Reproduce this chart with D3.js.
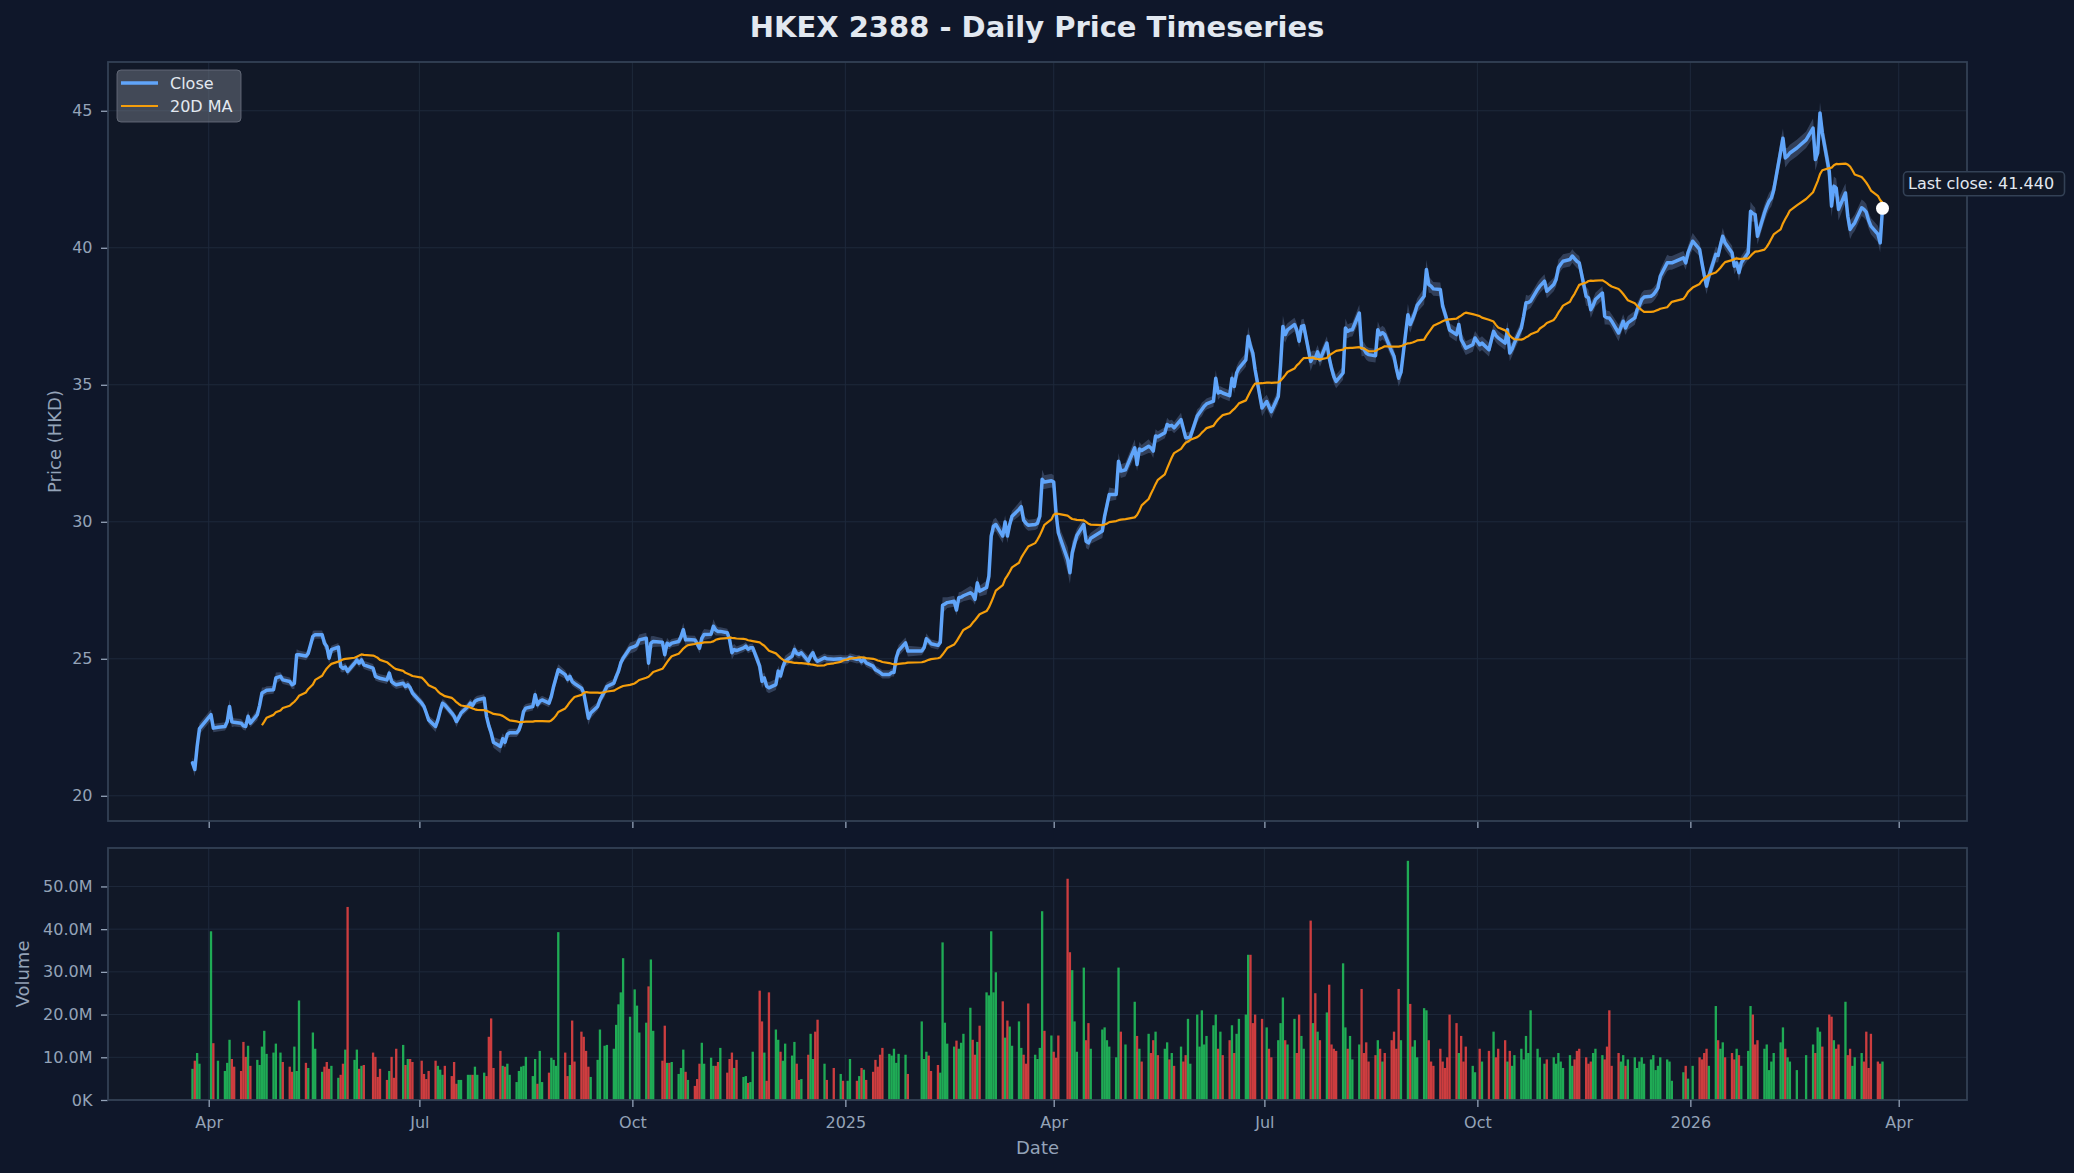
<!DOCTYPE html>
<html>
<head>
<meta charset="utf-8">
<script src="https://cdn.jsdelivr.net/npm/d3@7"></script>
<style>
  html, body { margin: 0; padding: 0; background: #0f172a; }
  svg { display: block; font-family: "DejaVu Sans", sans-serif; }
</style>
</head>
<body>
<svg id="chart" width="2074" height="1173"></svg>
<script>
var START_DATE = "2024-03-25";

// HKEX weekday holidays inside the range
var holidays = [
  "2024-03-29", "2024-04-01", "2024-04-04", "2024-05-01", "2024-05-15", "2024-06-10",
  "2024-07-01", "2024-09-18", "2024-10-01", "2024-10-11", "2024-12-25", "2024-12-26",
  "2025-01-01", "2025-01-29", "2025-01-30", "2025-01-31", "2025-04-04", "2025-04-18",
  "2025-04-21", "2025-05-01", "2025-05-05", "2025-07-01", "2025-10-01", "2025-10-07",
  "2025-10-29", "2025-12-25", "2025-12-26",
  "2026-01-01", "2026-02-17", "2026-02-18", "2026-02-19"
];

// daily close, HKD (one line per month)
var closes = [
  21.20, 20.96, 21.80, 22.45,
  22.96, 22.47, 22.50, 22.53, 22.70, 23.26, 22.70, 22.68, 22.65, 22.55, 22.53, 22.90, 22.65, 22.96, 23.30, 23.75, 23.80, 23.85, 23.87, 24.30,
  24.36, 24.23, 24.17, 24.05, 24.10, 25.15, 25.15, 25.10, 25.20, 25.82, 25.88, 25.88, 25.57, 25.45, 25.02, 25.33, 25.43, 24.72, 24.65, 24.70, 24.54,
  24.84, 24.96, 24.84, 24.96, 24.78, 24.66, 24.36, 24.32, 24.29, 24.23, 24.48, 24.17, 24.10, 24.05, 24.11, 23.99, 24.05, 23.95, 23.75,
  23.38, 23.26, 23.02, 22.77, 22.53, 22.77, 23.10, 23.38, 23.32, 23.02, 22.90, 22.71, 22.85, 23.02, 23.26, 23.38, 23.30, 23.45, 23.50, 23.56, 22.90, 22.55,
  22.30, 21.95, 21.80, 22.08, 21.95, 22.25, 22.30, 22.30, 22.40, 22.65, 23.08, 23.20, 23.26, 23.69, 23.32, 23.45, 23.50, 23.38, 23.63, 24.00, 24.30, 24.60,
  24.42, 24.25, 24.36, 24.17, 24.10, 23.93, 23.75, 23.30, 22.83, 23.02, 23.26, 23.50, 23.81, 23.99, 24.11, 24.35, 24.54, 24.85, 25.02, 25.39,
  25.45, 25.51, 25.69, 25.75, 24.84, 25.57, 25.63, 25.60, 25.15, 25.57, 25.50, 25.57, 25.63, 25.80, 26.06, 25.69, 25.70, 25.69, 25.55, 25.39, 25.75,
  25.89, 25.90, 26.19, 26.05, 26.00, 26.00, 25.95, 25.70, 25.22, 25.34, 25.30, 25.40, 25.46, 25.35, 25.40, 25.40, 24.73, 24.18, 24.30, 24.00, 23.94,
  24.06, 24.55, 24.37, 24.70, 24.91, 25.10, 25.34, 25.20, 25.16, 25.22, 24.91, 25.10, 25.22, 25.00, 24.91, 25.04, 25.00, 24.98, 25.00, 24.98,
  24.98, 25.05, 24.98, 25.00, 24.90, 24.98, 24.85, 24.73, 24.60, 24.55, 24.50, 24.43, 24.43, 24.50, 24.50, 25.04, 25.30, 25.58, 25.28,
  25.28, 25.40, 25.73, 25.65, 25.55, 25.49, 25.60, 26.95, 27.00, 27.05, 27.10, 26.78, 27.23, 27.25, 27.30, 27.41, 27.35, 27.17, 27.77, 27.47,
  27.60, 28.02, 29.48, 29.84, 29.90, 29.48, 29.99, 29.48, 29.90, 30.20, 30.45, 30.55, 30.06, 29.95, 29.87, 29.90, 29.95, 30.20, 31.55, 31.45, 31.50,
  31.45, 30.33, 29.60, 28.63, 28.14, 28.87, 29.20, 29.50, 29.90, 29.29, 29.23, 29.40, 29.66, 30.21, 30.60, 31.00, 31.00, 32.21, 31.85,
  31.90, 32.70, 32.09, 32.66, 32.60, 32.76, 32.70, 32.58, 33.13, 33.10, 33.25, 33.55, 33.50, 33.52, 33.43, 33.73, 33.40, 33.07, 33.07, 33.10,
  33.86, 33.98, 34.10, 34.22, 34.30, 34.40, 35.24, 34.70, 34.75, 34.70, 34.60, 35.24, 34.94, 35.43, 35.60, 35.91, 36.77, 36.40, 36.16, 35.55, 34.15,
  34.39, 34.20, 34.02, 34.57, 35.73, 37.13, 36.83, 37.00, 37.20, 37.00, 36.59, 37.13, 37.16, 35.85, 36.00, 35.98, 36.20, 35.91, 36.52, 35.98, 35.60, 35.30,
  35.12, 35.43, 37.07, 36.95, 37.00, 37.01, 37.62, 36.34, 36.30, 36.16, 36.10, 36.06, 37.01, 36.83, 36.90, 36.83, 36.22, 36.04, 35.60, 35.24, 35.45,
  37.56, 37.20, 37.40, 37.62, 37.90, 38.23, 39.21, 38.66, 38.60, 38.50, 38.48, 37.87, 37.60, 37.32, 37.00, 36.83, 37.20, 36.65, 36.50, 36.34, 36.46, 36.71,
  36.46, 36.52, 36.28, 36.95, 36.80, 36.71, 36.52, 37.01, 36.16, 36.30, 36.52, 37.07, 37.50, 37.99, 38.00, 38.05, 38.48, 38.60, 38.78, 38.41,
  38.66, 38.84, 39.27, 39.40, 39.51, 39.57, 39.70, 39.60, 39.51, 39.45, 38.23, 38.17, 37.74, 37.90, 38.11, 38.35, 37.50, 37.45, 37.44, 37.32,
  36.89, 37.10, 37.32, 37.07, 37.26, 37.44, 37.74, 37.90, 38.11, 38.20, 38.23, 38.29, 38.40, 38.54, 38.96, 39.45, 39.45, 39.45, 39.63, 39.45, 39.82,
  40.24, 39.94, 39.45, 39.00, 38.60, 38.97, 39.76, 39.72, 40.10, 40.42, 40.18, 39.82, 39.33, 39.45, 39.09, 39.45, 39.82, 41.33, 41.25, 41.21, 40.42,
  41.27, 41.50, 41.70, 41.82, 42.10, 43.52, 44.00, 43.28, 43.35, 43.46, 43.64, 43.94, 44.37, 43.22, 43.46, 44.92, 44.19,
  42.79, 41.52, 42.25, 42.18, 41.40, 42.00, 41.15, 40.67, 40.80, 40.91, 41.46, 41.40, 41.30, 41.00, 40.79, 40.50, 40.18, 41.44
];

// daily volume, millions of shares
var volumes = [
  7.3, 9.2, 11.0, 8.5,
  39.5, 13.3, 9.2, 6.8, 8.7, 14.1, 9.6, 7.8, 6.8, 13.6, 10.1, 12.7, 8.0, 9.4, 8.2, 12.5, 16.2, 10.8, 11.1, 13.2,
  11.1, 8.9, 7.8, 6.6, 12.5, 6.8, 23.3, 8.7, 7.5, 15.8, 12.0, 6.6, 7.8, 8.9, 7.3, 8.0, 5.2, 5.9, 8.5, 11.8, 45.2,
  9.4, 11.8, 7.3, 8.0, 8.2, 11.1, 10.1, 5.4, 7.3, 4.7, 6.8, 10.1, 5.2, 12.0, 12.9, 8.2, 9.6, 9.6, 8.9,
  9.2, 6.1, 4.9, 6.8, 9.2, 8.0, 7.1, 5.9, 8.0, 5.6, 8.9, 3.8, 4.7, 4.7, 5.9, 5.9, 5.9, 7.8, 5.9, 6.4, 5.6, 14.8,
  19.1, 7.5, 11.5, 8.0, 7.8, 8.5, 5.9, 4.2, 6.8, 7.8, 8.0, 10.1, 5.6, 9.6, 3.8, 11.5, 4.2, 6.4, 9.9, 9.4, 8.0, 39.3,
  11.1, 5.6, 8.2, 18.6, 9.0, 16.0, 14.8, 11.5, 7.8, 5.4, 9.4, 16.5, 12.7, 12.9, 12.0, 17.6, 22.4, 25.2, 33.2, 19.5,
  25.9, 22.1, 15.8, 18.1, 26.6, 32.9, 16.2, 9.2, 17.4, 8.7, 8.7, 8.9, 6.1, 7.5, 11.8, 6.6, 4.7, 3.3, 4.9, 8.5, 13.4,
  8.5, 9.9, 8.0, 8.0, 8.9, 12.2, 6.4, 9.6, 11.1, 7.5, 9.4, 5.4, 5.6, 4.0, 4.2, 11.3, 25.6, 18.4, 11.1, 4.5, 25.2,
  16.5, 14.1, 11.3, 9.2, 13.2, 10.4, 13.6, 8.5, 4.7, 4.9, 10.6, 15.5, 9.6, 16.0, 18.8, 8.5, 4.7, 7.5, 6.1, 4.5,
  4.5, 9.6, 4.5, 5.6, 7.5, 7.1, 4.7, 6.6, 9.4, 7.8, 10.6, 12.2, 10.8, 10.4, 12.0, 8.7, 10.8, 10.6, 6.1,
  18.4, 9.6, 11.3, 10.4, 6.8, 8.2, 6.4, 36.9, 18.1, 13.2, 12.5, 13.9, 12.0, 13.4, 15.5, 21.6, 14.1, 10.6, 13.6, 17.4,
  25.2, 24.5, 39.5, 25.2, 29.9, 23.1, 14.6, 18.6, 17.2, 12.7, 18.4, 12.2, 10.6, 8.5, 22.6, 10.6, 9.6, 12.2, 44.2, 16.2, 15.1,
  11.3, 9.9, 15.1, 51.8, 34.6, 30.4, 18.4, 11.3, 31.0, 14.0, 18.0, 12.0, 16.5, 17.0, 14.0, 12.5, 10.0, 31.0, 16.0,
  13.0, 23.0, 15.0, 12.0, 9.0, 15.5, 11.0, 14.0, 16.0, 10.5, 12.0, 13.5, 9.5, 11.0, 8.0, 12.5, 9.0, 10.5, 19.0, 8.5,
  20.0, 12.5, 21.0, 13.0, 15.0, 17.5, 20.0, 12.0, 16.0, 10.5, 14.0, 17.5, 11.0, 15.5, 19.0, 20.0, 34.0, 34.0, 18.0, 20.0, 19.0,
  17.0, 12.0, 10.0, 14.0, 18.0, 24.0, 14.0, 13.0, 19.0, 11.0, 20.0, 15.0, 12.0, 42.0, 18.0, 25.0, 16.0, 14.0, 20.5, 27.0, 13.0, 12.0,
  11.5, 32.0, 17.0, 12.0, 15.0, 9.5, 13.0, 26.0, 11.0, 13.5, 9.0, 10.5, 14.0, 12.0, 9.0, 11.0, 14.0, 16.0, 12.0, 26.0, 14.0,
  56.0, 22.5, 12.5, 14.0, 10.0, 21.5, 21.0, 14.0, 9.0, 8.0, 12.0, 9.0, 7.5, 10.0, 20.0, 18.0, 11.0, 15.0, 9.0, 12.5, 8.0, 6.5,
  12.0, 9.0, 11.5, 16.0, 10.0, 12.0, 14.0, 9.0, 11.5, 8.0, 10.5, 12.0, 9.5, 15.0, 11.0, 21.0, 12.0, 10.0, 8.5, 9.5,
  10.0, 8.5, 11.0, 9.0, 7.5, 10.5, 8.0, 9.5, 11.5, 12.0, 10.0, 8.5, 9.0, 11.0, 12.0, 10.5, 9.5, 12.5, 21.0, 8.0,
  11.0, 9.0, 10.5, 8.0, 9.5, 10.0, 7.5, 9.0, 10.0, 8.5, 9.5, 10.5, 7.0, 8.0, 10.0, 9.5, 9.0, 4.5, 6.5, 8.0, 5.0,
  8.0, 10.0, 9.5, 11.0, 12.0, 8.0, 22.0, 14.0, 12.0, 13.5, 10.0, 11.0, 9.5, 12.0, 10.5, 8.0, 11.5, 22.0, 20.0, 13.0, 14.0,
  12.0, 13.0, 7.0, 9.0, 11.0, 13.5, 17.0, 12.0, 10.0, 9.0, 7.0, 10.5, 13.0, 11.0, 17.0, 16.0, 12.5,
  20.0, 19.5, 14.0, 12.0, 13.0, 23.0, 10.5, 12.0, 8.0, 10.0, 11.0, 9.0, 16.0, 7.5, 15.5, 9.0, 8.5, 9.0
];

// daily high-low range, tenths of HKD
var spreads = [
  4, 5, 5, 4,
  4, 3, 3, 3, 4, 5, 4, 3, 3, 3, 3, 4, 3, 4, 4, 4, 3, 3, 3, 4,
  3, 3, 3, 3, 4, 4, 3, 3, 3, 4, 3, 3, 4, 3, 4, 3, 3, 4, 3, 3, 3,
  3, 3, 3, 3, 3, 3, 3, 3, 3, 3, 3, 3, 3, 3, 3, 3, 3, 3, 3,
  3, 3, 3, 3, 4, 3, 4, 3, 3, 3, 3, 4, 3, 3, 3, 3, 3, 3, 3, 3, 4, 4,
  4, 4, 5, 4, 4, 3, 3, 3, 3, 4, 4, 3, 3, 4, 3, 3, 3, 3, 3, 4, 5, 4,
  3, 3, 3, 3, 3, 3, 4, 4, 5, 4, 3, 3, 4, 3, 3, 4, 4, 4, 3, 4,
  4, 4, 4, 4, 6, 5, 4, 3, 5, 4, 3, 3, 3, 4, 5, 4, 3, 3, 3, 4, 4,
  4, 3, 5, 4, 3, 3, 3, 4, 5, 4, 3, 3, 3, 3, 3, 3, 5, 5, 4, 4, 4,
  4, 4, 3, 4, 4, 4, 4, 3, 3, 3, 4, 3, 3, 3, 3, 3, 3, 3, 3, 3,
  3, 3, 3, 3, 3, 3, 3, 3, 3, 3, 3, 3, 3, 3, 3, 4, 4, 4, 4,
  3, 3, 4, 3, 3, 3, 3, 6, 5, 4, 4, 4, 4, 4, 4, 5, 5, 4, 5, 4,
  5, 5, 7, 5, 5, 5, 5, 5, 4, 4, 5, 5, 4, 4, 4, 4, 4, 4, 7, 5, 5,
  5, 6, 6, 9, 8, 8, 6, 5, 5, 5, 5, 4, 5, 5, 5, 5, 4, 6, 5,
  5, 6, 5, 5, 4, 5, 4, 5, 5, 4, 4, 5, 4, 4, 4, 5, 4, 4, 4, 4,
  5, 4, 5, 4, 4, 4, 6, 5, 4, 4, 4, 5, 5, 5, 5, 5, 7, 6, 5, 6, 6,
  5, 5, 5, 5, 7, 8, 6, 5, 5, 5, 5, 5, 5, 7, 5, 5, 5, 5, 5, 5, 5, 5,
  5, 5, 7, 5, 5, 5, 6, 6, 5, 5, 5, 5, 6, 5, 5, 5, 5, 5, 5, 6, 6,
  8, 6, 5, 5, 5, 6, 7, 6, 5, 5, 5, 5, 5, 5, 5, 5, 5, 5, 5, 5, 5, 5,
  5, 5, 5, 5, 5, 5, 5, 6, 6, 5, 5, 5, 5, 6, 5, 5, 5, 5, 5, 5,
  5, 5, 6, 5, 5, 5, 5, 5, 5, 5, 7, 6, 6, 5, 5, 5, 6, 5, 5, 5,
  6, 5, 5, 5, 5, 5, 5, 5, 5, 5, 5, 5, 5, 5, 5, 6, 5, 5, 5, 5, 5,
  6, 5, 6, 6, 6, 5, 6, 5, 5, 6, 5, 5, 6, 5, 6, 5, 5, 7, 6, 5, 6,
  6, 6, 6, 6, 6, 8, 7, 7, 6, 6, 6, 6, 7, 8, 7, 8, 8,
  9, 8, 7, 7, 8, 7, 8, 7, 6, 6, 6, 6, 6, 6, 6, 6, 7, 6
];

var priceTicks = [ 20, 25, 30, 35, 40, 45 ];
var volumeTicks = [ 0, 10, 20, 30, 40, 50 ];
var MA_WINDOW = 20;

var COLORS = {
  bg: "#0f172a", panel: "#111827", spine: "#334155", grid: "#1e293b",
  tick: "#94a3b8", text: "#e2e8f0", close: "#60a5fa", ma: "#f59e0b",
  band: "#3b4a66", up: "#22c55e", down: "#ef4444"
};

var AREA = { left: 108, right: 1967, priceTop: 62, priceBottom: 821, volTop: 848, volBottom: 1100 };

var fmtDay = d3.utcFormat( "%Y-%m-%d" );
var holidaySet = new Set( holidays );
var dates = [];
var cursor = d3.utcParse( "%Y-%m-%d" )( START_DATE );
while( dates.length < closes.length ){
  var wd = cursor.getUTCDay();
  if( wd != 0 && wd != 6 && !holidaySet.has( fmtDay( cursor ) ) )
    dates.push( cursor );
  cursor = d3.utcDay.offset( cursor, 1 );
}

var rows = closes.map( function( c, i ){
  var s = ( spreads[ i ] || 4 ) / 10;
  var ma = null;
  if( i >= MA_WINDOW - 1 )
    ma = d3.mean( closes.slice( i - MA_WINDOW + 1, i + 1 ) );
  return {
    date: dates[ i ], close: c, vol: volumes[ i ] || 0,
    lo: c - s / 2, hi: c + s / 2, ma: ma,
    up: i == 0 || c >= closes[ i - 1 ]
  };
} );

var svg = d3.select( "#chart" );
svg.append( "rect" ).attr( "width", 2074 ).attr( "height", 1173 ).attr( "fill", COLORS.bg );

var x = d3.scaleUtc()
  .domain( [ new Date( Date.UTC( 2024, 1, 17, 12 ) ), new Date( Date.UTC( 2026, 3, 30, 12 ) ) ] )
  .range( [ AREA.left, AREA.right ] );
var yPrice = d3.scaleLinear().domain( [ 19.08, 46.78 ] ).range( [ AREA.priceBottom, AREA.priceTop ] );
var yVol = d3.scaleLinear().domain( [ 0, 59.0 ] ).range( [ AREA.volBottom, AREA.volTop ] );

var monthTicks = x.ticks( d3.utcMonth.every( 3 ) );
var fmtTick = function( d ){
  return d.getUTCMonth() == 0 ? d3.utcFormat( "%Y" )( d ) : d3.utcFormat( "%b" )( d );
};

function drawPanel( top, bottom, y, yTicks, yFormat ){
  var g = svg.append( "g" );
  g.append( "rect" )
    .attr( "x", AREA.left ).attr( "y", top )
    .attr( "width", AREA.right - AREA.left ).attr( "height", bottom - top )
    .attr( "fill", COLORS.panel );

  g.selectAll( ".vgrid" ).data( monthTicks ).enter().append( "line" )
    .attr( "x1", function( d ){ return x( d ); } ).attr( "x2", function( d ){ return x( d ); } )
    .attr( "y1", top ).attr( "y2", bottom )
    .attr( "stroke", COLORS.grid ).attr( "stroke-width", 1 );

  g.selectAll( ".hgrid" ).data( yTicks ).enter().append( "line" )
    .attr( "x1", AREA.left ).attr( "x2", AREA.right )
    .attr( "y1", function( d ){ return y( d ); } ).attr( "y2", function( d ){ return y( d ); } )
    .attr( "stroke", COLORS.grid ).attr( "stroke-width", 1 );

  var yAxis = g.append( "g" )
    .attr( "transform", "translate(" + AREA.left + ",0)" )
    .call( d3.axisLeft( y ).tickValues( yTicks ).tickFormat( yFormat ).tickSize( 7 ).tickPadding( 8.5 ) );
  yAxis.select( ".domain" ).remove();
  yAxis.selectAll( "line" ).attr( "stroke", COLORS.tick ).attr( "stroke-width", 1.3 );
  yAxis.selectAll( "text" ).attr( "fill", COLORS.tick ).style( "font-size", "16px" ).style( "font-family", "DejaVu Sans" );

  return g;
}

function drawFrame( top, bottom ){
  svg.append( "rect" )
    .attr( "x", AREA.left ).attr( "y", top )
    .attr( "width", AREA.right - AREA.left ).attr( "height", bottom - top )
    .attr( "fill", "none" ).attr( "stroke", COLORS.spine ).attr( "stroke-width", 1.8 );
}

// price panel
drawPanel( AREA.priceTop, AREA.priceBottom, yPrice, priceTicks, d3.format( "d" ) );

var topTicks = svg.append( "g" )
  .attr( "transform", "translate(0," + AREA.priceBottom + ")" )
  .call( d3.axisBottom( x ).tickValues( monthTicks ).tickFormat( "" ).tickSize( 7 ) );
topTicks.select( ".domain" ).remove();
topTicks.selectAll( "line" ).attr( "stroke", COLORS.tick ).attr( "stroke-width", 1.3 );

svg.append( "path" ).datum( rows )
  .attr( "fill", COLORS.band ).attr( "fill-opacity", 0.8 )
  .attr( "d", d3.area()
    .x( function( d ){ return x( d.date ); } )
    .y0( function( d ){ return yPrice( d.lo ); } )
    .y1( function( d ){ return yPrice( d.hi ); } ) );

svg.append( "path" ).datum( rows )
  .attr( "fill", "none" ).attr( "stroke", COLORS.close ).attr( "stroke-width", 3.5 )
  .attr( "stroke-linejoin", "round" ).attr( "stroke-linecap", "round" )
  .attr( "d", d3.line()
    .x( function( d ){ return x( d.date ); } )
    .y( function( d ){ return yPrice( d.close ); } ) );

svg.append( "path" ).datum( rows.filter( function( d ){ return d.ma != null; } ) )
  .attr( "fill", "none" ).attr( "stroke", COLORS.ma ).attr( "stroke-width", 2.2 )
  .attr( "stroke-linejoin", "round" )
  .attr( "d", d3.line()
    .x( function( d ){ return x( d.date ); } )
    .y( function( d ){ return yPrice( d.ma ); } ) );

drawFrame( AREA.priceTop, AREA.priceBottom );

// last close marker
var last = rows[ rows.length - 1 ];
var lx = x( last.date ), ly = yPrice( last.close );
svg.append( "circle" ).attr( "cx", lx ).attr( "cy", ly ).attr( "r", 6.5 ).attr( "fill", "#ffffff" );
svg.append( "rect" )
  .attr( "x", lx + 21 ).attr( "y", ly - 36.5 ).attr( "width", 161 ).attr( "height", 24 ).attr( "rx", 4 )
  .attr( "fill", COLORS.panel ).attr( "stroke", COLORS.spine ).attr( "stroke-width", 1.6 );
svg.append( "text" )
  .attr( "x", lx + 25.5 ).attr( "y", ly - 24.5 )
  .attr( "dominant-baseline", "central" )
  .attr( "fill", COLORS.text ).style( "font-size", "16px" )
  .text( "Last close: " + last.close.toFixed( 3 ) );

// legend
var legend = svg.append( "g" );
legend.append( "rect" )
  .attr( "x", 117 ).attr( "y", 70 ).attr( "width", 124 ).attr( "height", 52 ).attr( "rx", 4 )
  .attr( "fill", "#6b7280" ).attr( "fill-opacity", 0.55 )
  .attr( "stroke", "#6b7280" ).attr( "stroke-opacity", 0.8 ).attr( "stroke-width", 1 );
[ { label: "Close", color: COLORS.close, w: 3.5, y: 83 },
  { label: "20D MA", color: COLORS.ma, w: 2.2, y: 106 } ].forEach( function( item ){
  legend.append( "line" )
    .attr( "x1", 121 ).attr( "x2", 158 ).attr( "y1", item.y ).attr( "y2", item.y )
    .attr( "stroke", item.color ).attr( "stroke-width", item.w );
  legend.append( "text" )
    .attr( "x", 170 ).attr( "y", item.y )
    .attr( "dominant-baseline", "central" )
    .attr( "fill", COLORS.text ).style( "font-size", "16px" )
    .text( item.label );
} );

// volume panel
drawPanel( AREA.volTop, AREA.volBottom, yVol, volumeTicks, function( v ){
  return v == 0 ? "0K" : v.toFixed( 1 ) + "M";
} );

var barW = x( d3.utcHour.offset( dates[ 0 ], 24 ) ) - x( dates[ 0 ] );
svg.append( "g" ).selectAll( "rect" ).data( rows ).enter().append( "rect" )
  .attr( "x", function( d ){ return x( d.date ) - barW / 2; } )
  .attr( "y", function( d ){ return yVol( d.vol ); } )
  .attr( "width", barW )
  .attr( "height", function( d ){ return yVol( 0 ) - yVol( d.vol ); } )
  .attr( "fill", function( d ){ return d.up ? COLORS.up : COLORS.down; } )
  .attr( "fill-opacity", 0.85 );

drawFrame( AREA.volTop, AREA.volBottom );

var xAxis = svg.append( "g" )
  .attr( "transform", "translate(0," + AREA.volBottom + ")" )
  .call( d3.axisBottom( x ).tickValues( monthTicks ).tickFormat( fmtTick ).tickSize( 7 ).tickPadding( 10 ) );
xAxis.select( ".domain" ).remove();
xAxis.selectAll( "line" ).attr( "stroke", COLORS.tick ).attr( "stroke-width", 1.3 );
xAxis.selectAll( "text" ).attr( "fill", COLORS.tick ).style( "font-size", "16px" ).style( "font-family", "DejaVu Sans" );

// titles and axis labels
svg.append( "text" )
  .attr( "x", 1037 ).attr( "y", 27 ).attr( "text-anchor", "middle" ).attr( "dominant-baseline", "central" )
  .attr( "fill", COLORS.text ).style( "font-size", "29px" ).style( "font-weight", "bold" )
  .text( "HKEX 2388 - Daily Price Timeseries" );

svg.append( "text" )
  .attr( "transform", "translate(54," + ( AREA.priceTop + AREA.priceBottom ) / 2 + ") rotate(-90)" )
  .attr( "text-anchor", "middle" ).attr( "dominant-baseline", "central" )
  .attr( "fill", COLORS.tick ).style( "font-size", "18px" )
  .text( "Price (HKD)" );

svg.append( "text" )
  .attr( "transform", "translate(22.5," + ( AREA.volTop + AREA.volBottom ) / 2 + ") rotate(-90)" )
  .attr( "text-anchor", "middle" ).attr( "dominant-baseline", "central" )
  .attr( "fill", COLORS.tick ).style( "font-size", "18px" )
  .text( "Volume" );

svg.append( "text" )
  .attr( "x", ( AREA.left + AREA.right ) / 2 ).attr( "y", 1147 )
  .attr( "text-anchor", "middle" ).attr( "dominant-baseline", "central" )
  .attr( "fill", COLORS.tick ).style( "font-size", "18px" )
  .text( "Date" );
</script>
</body>
</html>
